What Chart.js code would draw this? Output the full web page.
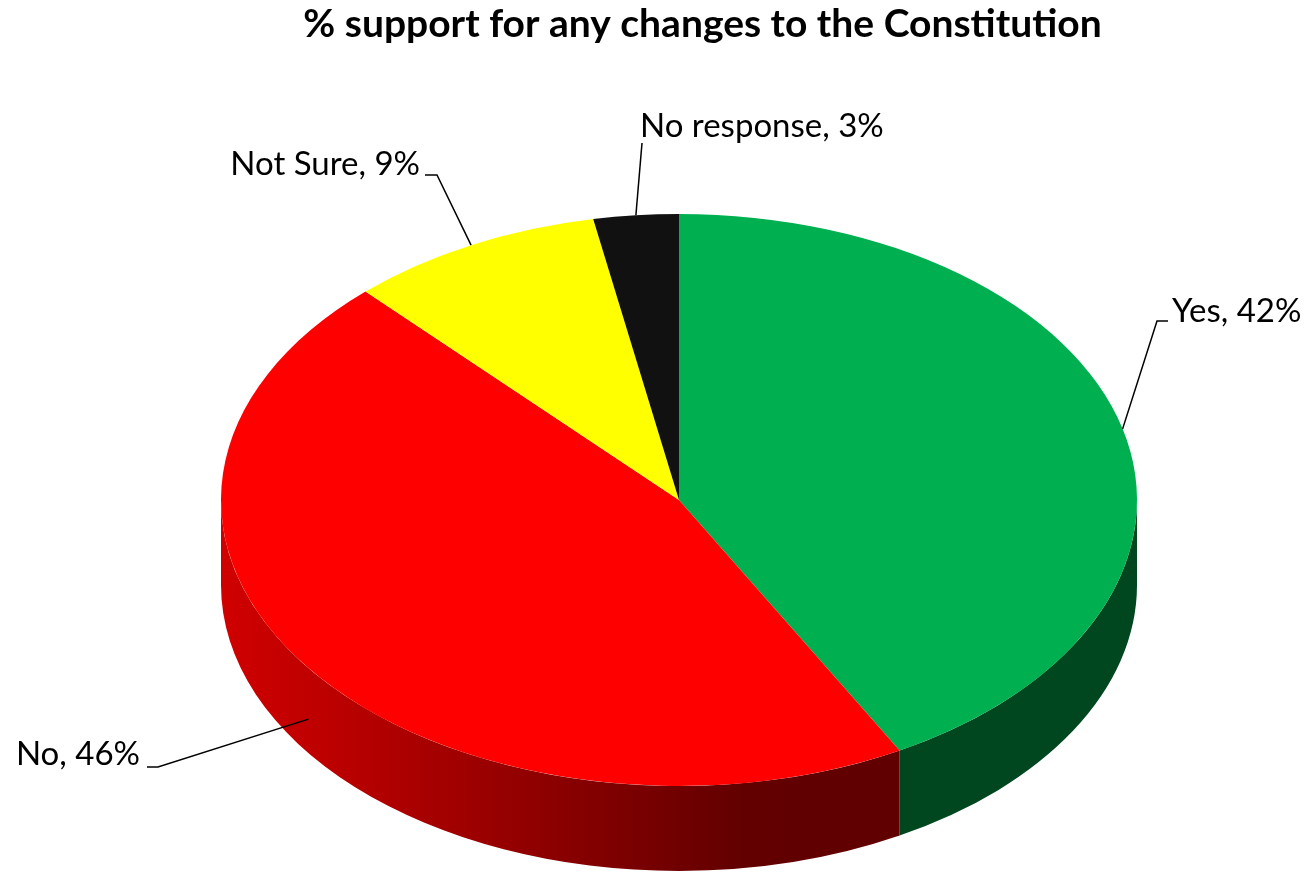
<!DOCTYPE html>
<html>
<head>
<meta charset="utf-8">
<script src="https://cdn.jsdelivr.net/npm/chart.js@4.4.1/dist/chart.umd.min.js"></script>
<style>
  html, body { margin: 0; padding: 0; background: #fff; }
  canvas { display: block; }
</style>
</head>
<body>
<canvas id="pie" width="1309" height="872"></canvas>
<script>
const categories = ['Yes', 'No', 'Not Sure', 'No response'];
const shares = [42, 46, 9, 3];
const faceColors = ['#00B050', '#FF0000', '#FFFF00', '#111111'];
// side wall shading as gradient stops across the full pie width (0 = left edge, 1 = right edge)
const wallStops = [
    [[0, '#00461F'], [1, '#00461F']],
    [[0, '#D00000'], [0.12, '#BC0000'], [0.57, '#620000'], [1, '#600000']],
    [[0, '#B0B000'], [1, '#8A8A00']],
    [[0, '#080808'], [1, '#080808']]
];

// draws the pie as a tilted disc: dark rim first, then the squashed top face
const pie3d = {
    id: 'pie3d',
    beforeDatasetsDraw(chart, args, opts) {
        const ctx = chart.ctx;
        const arcs = chart.getDatasetMeta(0).data;
        const {cx, cy, rx, ry, depth} = opts;

        ctx.save();
        arcs.forEach((arc, i) => {
            const {startAngle, endAngle} = arc.getProps(['startAngle', 'endAngle'], true);
            // only the front half of the rim (0..PI) is visible, check the wrapped turn too
            [0, 2 * Math.PI].forEach(off => {
                const a = Math.max(startAngle, off);
                const b = Math.min(endAngle, off + Math.PI);
                if (b <= a) return;
                const g = ctx.createLinearGradient(cx - rx, 0, cx + rx, 0);
                wallStops[i].forEach(([p, c]) => g.addColorStop(p, c));
                ctx.beginPath();
                ctx.ellipse(cx, cy, rx, ry, 0, a, b);
                ctx.ellipse(cx, cy + depth, rx, ry, 0, b, a, true);
                ctx.closePath();
                ctx.fillStyle = g;
                ctx.fill();
            });
        });

        const first = arcs[0];
        const s = 1 / first.outerRadius;
        ctx.translate(cx, cy);
        ctx.scale(rx * s, ry * s);
        ctx.translate(-first.x, -first.y);
    },
    afterDatasetsDraw(chart) {
        chart.ctx.restore();
    },
    afterDraw(chart, args, opts) {
        const ctx = chart.ctx;
        const arcs = chart.getDatasetMeta(0).data;
        const {cx, cy, rx, ry, depth, labels} = opts;

        ctx.save();
        ctx.font = '33px Lato, "Noto Sans", sans-serif';
        ctx.fillStyle = '#000';
        ctx.strokeStyle = '#000';
        ctx.lineWidth = 1.5;
        ctx.textBaseline = 'alphabetic';

        arcs.forEach((arc, i) => {
            const lab = labels[i];
            const {startAngle, endAngle} = arc.getProps(['startAngle', 'endAngle'], true);
            const mid = (startAngle + endAngle) / 2;
            const ax = cx + rx * Math.cos(mid);
            const ay = cy + ry * Math.sin(mid) + (lab.drop || 0) * depth;

            ctx.beginPath();
            ctx.moveTo(ax, ay);
            ctx.lineTo(lab.elbow[0], lab.elbow[1]);
            if (lab.stub) ctx.lineTo(lab.elbow[0] + lab.stub, lab.elbow[1]);
            ctx.stroke();

            ctx.textAlign = lab.align;
            ctx.fillText(`${categories[i]}, ${shares[i]}%`, lab.x, lab.y);
        });
        ctx.restore();
    }
};

new Chart(document.getElementById('pie'), {
    type: 'pie',
    plugins: [pie3d],
    data: {
        labels: categories,
        datasets: [{
            data: shares,
            backgroundColor: faceColors,
            borderWidth: 0,
            clip: false
        }]
    },
    options: {
        responsive: false,
        animation: false,
        events: [],
        rotation: 0,
        layout: {padding: {left: 96}},
        plugins: {
            legend: {display: false},
            tooltip: {enabled: false},
            title: {
                display: true,
                text: '% support for any changes to the Constitution',
                color: '#000',
                font: {family: 'Lato', size: 39, weight: 'bold'},
                padding: {top: 1, bottom: 10}
            },
            pie3d: {
                cx: 679, cy: 500, rx: 458, ry: 286, depth: 85,
                labels: [
                    {x: 1172, y: 322, align: 'left', elbow: [1157, 321], stub: 11},
                    {x: 140, y: 765, align: 'right', elbow: [158, 767], stub: -11, drop: 0.6},
                    {x: 420, y: 175, align: 'right', elbow: [437, 175], stub: -12},
                    {x: 640, y: 137, align: 'left', elbow: [642, 143]}
                ]
            }
        }
    }
});
</script>
</body>
</html>
